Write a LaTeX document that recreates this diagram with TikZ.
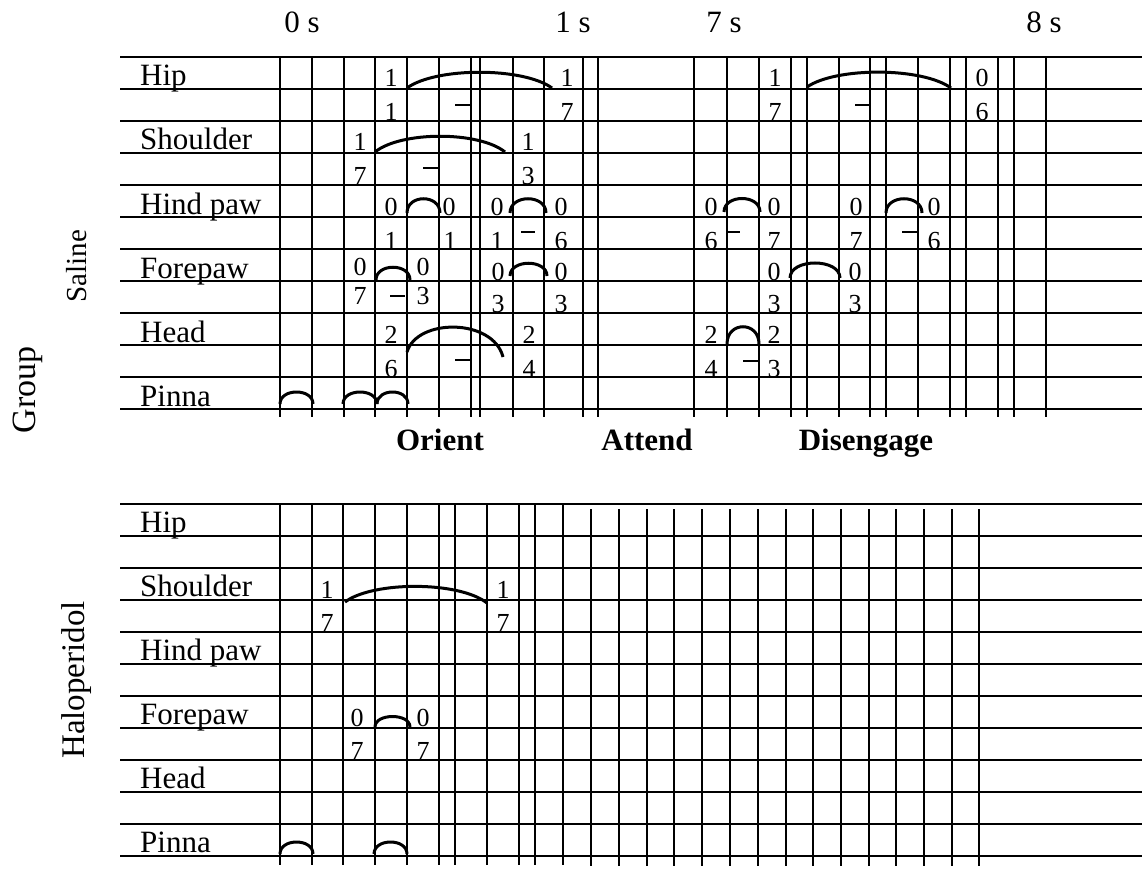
\documentclass[tikz,border=0pt]{standalone}
\usepackage{fontspec}
\setmainfont{Liberation Serif}
\begin{document}
\begin{tikzpicture}[x=1pt,y=-1pt,
  gridline/.style={line width=2pt},
  hump/.style={line width=3pt},
  dashmark/.style={line width=1.8pt},
  dig/.style={font=\fontsize{26}{26}\selectfont, anchor=base, inner sep=0pt},
  rowlab/.style={font=\fontsize{31}{31}\selectfont, anchor=base west, inner sep=0pt},
  timelab/.style={font=\fontsize{31}{31}\selectfont, anchor=base, inner sep=0pt},
  phase/.style={font=\bfseries\fontsize{31}{31}\selectfont, anchor=base, inner sep=0pt},
  grouplab/.style={font=\fontsize{31}{31}\selectfont, rotate=90, inner sep=0pt}]
\useasboundingbox (0,0) rectangle (1142,869);

% ---------- time labels ----------
\node[timelab] (t0) at (302,33) {0 s};
\node[timelab] (t1) at (573,33) {1 s};
\node[timelab] (t7) at (724,33) {7 s};
\node[timelab] (t8) at (1044,33) {8 s};

% ---------- group labels ----------
\node[grouplab, font=\fontsize{29}{29}\selectfont] (saline) at (77,266) {Saline};
\node[grouplab, font=\fontsize{34}{34}\selectfont] (group) at (28,390) {Group};
\node[grouplab, font=\fontsize{33}{33}\selectfont] (halo) at (77,680) {Haloperidol};

% ---------- phase labels ----------
\node[phase] (orient) at (440,450) {Orient};
\node[phase] (attend) at (647,450) {Attend};
\node[phase] (diseng) at (866,450) {Disengage};

% ---------- Saline numbers ----------
% Hip
\node[dig] (sh1a) at (391,87) {1};  \node[dig] (sh1b) at (391,121) {1};
\node[dig] (sh2a) at (567,87) {1};  \node[dig] (sh2b) at (567,121) {7};
\node[dig] (sh3a) at (775,87) {1};  \node[dig] (sh3b) at (775,121) {7};
\node[dig] (sh4a) at (982,87) {0};  \node[dig] (sh4b) at (982,121) {6};
% Shoulder
\node[dig] (ss1a) at (360,151) {1}; \node[dig] (ss1b) at (360,185) {7};
\node[dig] (ss2a) at (528,151) {1}; \node[dig] (ss2b) at (528,185) {3};
% Hind paw
\node[dig] (shp1a) at (391,215) {0}; \node[dig] (shp1b) at (391,249) {1};
\node[dig] (shp2a) at (449,215) {0}; \node[dig] (shp2b) at (450,249) {1};
\node[dig] (shp3a) at (497,215) {0}; \node[dig] (shp3b) at (497,249) {1};
\node[dig] (shp4a) at (561,215) {0}; \node[dig] (shp4b) at (561,249) {6};
\node[dig] (shp5a) at (711,215) {0}; \node[dig] (shp5b) at (711,249) {6};
\node[dig] (shp6a) at (774,215) {0}; \node[dig] (shp6b) at (774,249) {7};
\node[dig] (shp7a) at (856,215) {0}; \node[dig] (shp7b) at (856,249) {7};
\node[dig] (shp8a) at (934,215) {0}; \node[dig] (shp8b) at (934,249) {6};
% Forepaw
\node[dig] (sfp1a) at (360,275) {0}; \node[dig] (sfp1b) at (360,304) {7};
\node[dig] (sfp2a) at (423,275) {0}; \node[dig] (sfp2b) at (423,304) {3};
\node[dig] (sfp3a) at (498,280) {0}; \node[dig] (sfp3b) at (498,312) {3};
\node[dig] (sfp4a) at (561,280) {0}; \node[dig] (sfp4b) at (561,312) {3};
\node[dig] (sfp5a) at (774,280) {0}; \node[dig] (sfp5b) at (774,312) {3};
\node[dig] (sfp6a) at (855,280) {0}; \node[dig] (sfp6b) at (855,312) {3};
% Head
\node[dig] (shd1a) at (391,343) {2}; \node[dig] (shd1b) at (391,377) {6};
\node[dig] (shd2a) at (529,343) {2}; \node[dig] (shd2b) at (529,377) {4};
\node[dig] (shd3a) at (711,343) {2}; \node[dig] (shd3b) at (711,377) {4};
\node[dig] (shd4a) at (774,343) {2}; \node[dig] (shd4b) at (774,377) {3};

% ---------- Haloperidol numbers ----------
\node[dig] (hs1a) at (327,598) {1}; \node[dig] (hs1b) at (327,631) {7};
\node[dig] (hs2a) at (503,598) {1}; \node[dig] (hs2b) at (503,631) {7};
\node[dig] (hf1a) at (357,726) {0}; \node[dig] (hf1b) at (357,759) {7};
\node[dig] (hf2a) at (423,726) {0}; \node[dig] (hf2b) at (423,759) {7};

% ---------- grid: Saline ----------
\foreach \k in {0,...,11}
  \draw[gridline] (120,{57+32*\k}) -- (1142,{57+32*\k});
\foreach \x in {280,312,344,375,407,439,471,480,513,544,583,598,694,727,759,791,807,839,870,886,918,950,966,998,1014,1046}
  \draw[gridline] (\x,57) -- (\x,417);

% ---------- grid: Haloperidol ----------
\foreach \k in {0,...,11}
  \draw[gridline] (120,{504+32*\k}) -- (1142,{504+32*\k});
\foreach \x in {280,312,343,375,407,439,455,487,519,535,563}
  \draw[gridline] (\x,504) -- (\x,865);
\foreach \x in {591,619,647,674,702,730,758,786,813,841,869,896,924,952,979}
  \draw[gridline] (\x,509) -- (\x,866);

% ---------- row labels ----------
\foreach \nm [count=\i from 0] in {Hip,Shoulder,Hind paw,Forepaw,Head,Pinna}{
  \node[rowlab] at (140,{86+64*\i}) {\nm};
  \node[rowlab] at (140,{532+64*\i}) {\nm};
}

% ---------- Saline humps ----------
\draw[hump] (407,88) .. controls (436,67) and (523,67) .. (552,88);
\draw[hump] (807,87) .. controls (836,67) and (922,67) .. (951,88);
\draw[hump] (375,152) .. controls (401,131) and (479,131) .. (505,152);
\draw[hump] (407,213) .. controls (407,194) and (440,194) .. (440,213);
\draw[hump] (510,213) .. controls (510,194) and (546,194) .. (546,213);
\draw[hump] (724,212) .. controls (724,194) and (760,194) .. (760,212);
\draw[hump] (886,213) .. controls (886,194) and (922,194) .. (922,213);
\draw[hump] (376,280) .. controls (376,263) and (410,263) .. (410,280);
\draw[hump] (510,276) .. controls (510,259) and (547,259) .. (547,276);
\draw[hump] (790,278) .. controls (790,258) and (840,258) .. (840,278);
\draw[hump] (407,352) .. controls (417,318) and (493,318) .. (503,357);
\draw[hump] (727,344) .. controls (727,321) and (759,321) .. (759,344);
\draw[hump] (280,404) .. controls (280,388) and (313,388) .. (313,404);
\draw[hump] (343,404) .. controls (343,388) and (377,388) .. (377,404);
\draw[hump] (377,404) .. controls (377,388) and (408,388) .. (408,404);

% ---------- Saline dashes ----------
\draw[dashmark] (455,105) -- (470,105);
\draw[dashmark] (855,105) -- (870,105);
\draw[dashmark] (423,168) -- (438,168);
\draw[dashmark] (521,232) -- (535,232);
\draw[dashmark] (728,232) -- (740,232);
\draw[dashmark] (902,232) -- (918,232);
\draw[dashmark] (390,296) -- (405,296);
\draw[dashmark] (455,360) -- (470,360);
\draw[dashmark] (743,361) -- (758,361);

% ---------- Haloperidol humps ----------
\draw[hump] (345,602) .. controls (373,581) and (459,581) .. (487,603);
\draw[hump] (375,727) .. controls (375,713) and (410,713) .. (410,727);
\draw[hump] (280,854) .. controls (280,838) and (313,838) .. (313,854);
\draw[hump] (374,854) .. controls (374,838) and (407,838) .. (407,854);
\end{tikzpicture}
\end{document}
